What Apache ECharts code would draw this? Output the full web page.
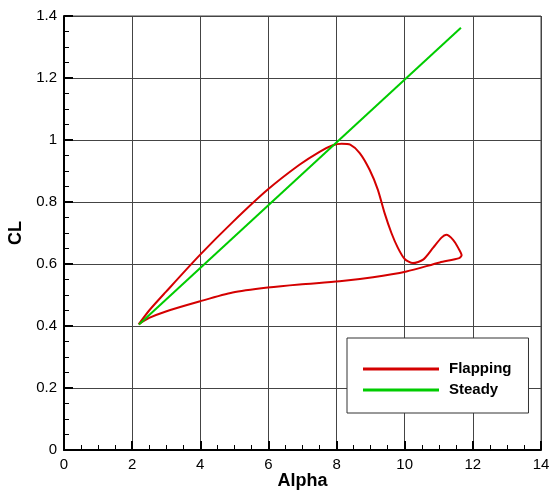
<!DOCTYPE html>
<html><head><meta charset="utf-8">
<script src="https://cdn.jsdelivr.net/npm/echarts@6/dist/echarts.min.js"></script>
<style>html,body{margin:0;padding:0;background:#fff}#c{width:551px;height:493px}</style>
</head><body><div id="c"></div>
<script>
var seriesNames = ['Flapping', 'Steady'];
// Flapping loop (alpha, CL), traced: upper branch -> stall -> bump -> lower branch back
var flappingAlpha = [2.19, 2.5, 2.99, 3.97, 4.95, 5.98, 6.91, 7.5, 7.89, 8.15, 8.4, 8.68, 8.97, 9.21, 9.41, 9.61, 9.80, 10.0, 10.24, 10.54, 10.83, 11.08, 11.22, 11.42, 11.57, 11.67, 11.6, 11.03, 10.05, 9.07, 8.09, 6.91, 5.98, 4.95, 3.97, 2.99, 2.5, 2.19];
var flappingCL =    [0.405, 0.45, 0.51, 0.627, 0.735, 0.84, 0.92, 0.962, 0.983, 0.988, 0.985, 0.958, 0.904, 0.84, 0.764, 0.70, 0.652, 0.616, 0.603, 0.614, 0.652, 0.685, 0.694, 0.678, 0.652, 0.628, 0.619, 0.605, 0.576, 0.557, 0.544, 0.534, 0.524, 0.508, 0.479, 0.447, 0.426, 0.405];
var steadyAlpha = [2.2, 11.65];
var steadyCL = [0.405, 1.362];
var xTicks = [0, 2, 4, 6, 8, 10, 12, 14];
var yTicks = [0, 0.2, 0.4, 0.6, 0.8, 1, 1.2, 1.4];

function pairs(a, b) { return a.map(function (v, i) { return [v, b[i]]; }); }

var chart = echarts.init(document.getElementById('c'));
var font = 'Arial, "Liberation Sans", sans-serif';
var axisCommon = {
  axisLine: { show: true, onZero: false, lineStyle: { color: '#000', width: 2 } },
  axisTick: { show: true, inside: true, length: 9, lineStyle: { color: '#000', width: 2 } },
  minorTick: { show: true, splitNumber: 4, length: 5, lineStyle: { color: '#000', width: 1 } },
  splitLine: { show: true, showMinLine: true, showMaxLine: true, lineStyle: { color: '#444', width: 1 } },
  axisLabel: { color: '#000', fontFamily: font, fontSize: 15, margin: 7 },
  nameMoveOverlap: false,
  nameTextStyle: { color: '#000', fontFamily: font, fontSize: 18, fontWeight: 'bold' }
};
chart.setOption({
  animation: false,
  backgroundColor: '#fff',
  grid: { left: 64, right: 10, top: 16, bottom: 43, show: true, borderColor: '#444', borderWidth: 1,
          containLabel: false, outerBoundsMode: 'none' },
  xAxis: Object.assign({}, axisCommon, {
    type: 'value', min: xTicks[0], max: xTicks[xTicks.length - 1], interval: 2,
    name: 'Alpha', nameLocation: 'middle', nameGap: 22
  }),
  yAxis: Object.assign({}, axisCommon, {
    type: 'value', min: yTicks[0], max: yTicks[yTicks.length - 1], interval: 0.2,
    name: 'CL', nameLocation: 'middle', nameGap: 39
  }),
  legend: {
    orient: 'vertical', left: 347, top: 338,
    padding: [22, 17, 14, 16],
    backgroundColor: '#fff', borderColor: '#333', borderWidth: 1,
    itemWidth: 76, itemHeight: 3, itemGap: 3,
    icon: 'rect',
    textStyle: { color: '#000', fontFamily: font, fontSize: 15, fontWeight: 'bold', lineHeight: 18, padding: [0, 0, 0, 5] },
    data: seriesNames
  },
  series: [
    { name: seriesNames[0], type: 'line', data: pairs(flappingAlpha, flappingCL), showSymbol: false, smooth: 0.25,
      lineStyle: { color: '#d40000', width: 2 }, itemStyle: { color: '#d40000' } },
    { name: seriesNames[1], type: 'line', data: pairs(steadyAlpha, steadyCL), showSymbol: false,
      lineStyle: { color: '#00cc00', width: 2 }, itemStyle: { color: '#00cc00' } }
  ]
});
</script></body></html>
